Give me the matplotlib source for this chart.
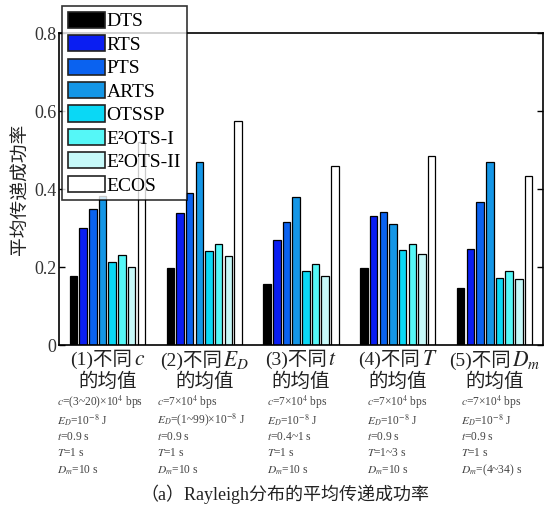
import numpy as np
import matplotlib
matplotlib.use('Agg')
import matplotlib.pyplot as plt
from matplotlib.patches import Patch
from matplotlib.offsetbox import TextArea, HPacker, AnnotationBbox

plt.rcParams['font.family'] = ['Liberation Serif', 'Noto Sans CJK SC']
plt.rcParams['mathtext.fontset'] = 'stix'

# Average delivery success rate per scheme, one value per scenario group
schemes = ['DTS', 'RTS', 'PTS', 'ARTS', 'OTSSP', 'E²OTS-I', 'E²OTS-II', 'ECOS']
colors = ['#000000', '#0a1ef2', '#0a62f0', '#1496e6', '#0ad8f5', '#55f7f7', '#c6f9f9', '#ffffff']
dts = [0.177, 0.198, 0.156, 0.198, 0.146]
rts = [0.299, 0.338, 0.268, 0.331, 0.247]
pts = [0.349, 0.390, 0.316, 0.341, 0.366]
arts = [0.382, 0.469, 0.380, 0.309, 0.470]
otssp = [0.213, 0.241, 0.190, 0.243, 0.172]
e2ots1 = [0.232, 0.260, 0.207, 0.260, 0.190]
e2ots2 = [0.200, 0.227, 0.178, 0.233, 0.168]
ecos = [0.520, 0.575, 0.459, 0.485, 0.434]
series = [dts, rts, pts, arts, otssp, e2ots1, e2ots2, ecos]

group_prefix = ['(1)不同', '(2)不同', '(3)不同', '(4)不同', '(5)不同']
group_var = ['$c$', '$E_D$', '$t$', '$T$', '$D_m$']
y_ticks = [0, 0.2, 0.4, 0.6, 0.8]
y_tick_labels = ['0', '0.2', '0.4', '0.6', '0.8']

params = [
    ['$c$=(3~20)×10$^4$ bps', '$E_D$=10$^{-8}$ J', '$t$=0.9 s', '$T$=1 s', '$D_m$=10 s'],
    ['$c$=7×10$^4$ bps', '$E_D$=(1~99)×10$^{-8}$ J', '$t$=0.9 s', '$T$=1 s', '$D_m$=10 s'],
    ['$c$=7×10$^4$ bps', '$E_D$=10$^{-8}$ J', '$t$=0.4~1 s', '$T$=1 s', '$D_m$=10 s'],
    ['$c$=7×10$^4$ bps', '$E_D$=10$^{-8}$ J', '$t$=0.9 s', '$T$=1~3 s', '$D_m$=10 s'],
    ['$c$=7×10$^4$ bps', '$E_D$=10$^{-8}$ J', '$t$=0.9 s', '$T$=1 s', '$D_m$=(4~34) s'],
]

W, H = 544, 512
fig = plt.figure(figsize=(W / 100, H / 100), dpi=100)
ax = fig.add_axes([59 / W, 1 - 345 / H, 484 / W, 312 / H])

x = np.arange(1, 6)
pitch = 0.1
for i, (vals, col) in enumerate(zip(series, colors)):
    ax.bar(x + (i - 3.5) * pitch, vals, width=0.078, color=col,
           edgecolor='black', linewidth=0.9, zorder=2)

ax.set_xlim(0.5, 5.5)
ax.set_ylim(0, 0.8)
ax.set_yticks(y_ticks)
ax.set_yticklabels(y_tick_labels, fontsize=13, color='#333333')
ax.set_xticks([])
ax.tick_params(axis='y', direction='in', length=4, width=1, right=True, pad=2)
for sp in ax.spines.values():
    sp.set_linewidth(1.2)

ax.set_ylabel('平均传递成功率', fontsize=13.5, labelpad=3, color='#222222')

# two-line group titles: text plus an italic variable name
trans = ax.get_xaxis_transform()
for xi, pre, var in zip(x, group_prefix, group_var):
    row = HPacker(children=[
        TextArea(pre, textprops=dict(fontsize=14, color='#222222')),
        TextArea(var, textprops=dict(fontsize=15.5, color='#222222')),
    ], pad=0, sep=1, align='baseline')
    ab = AnnotationBbox(row, (xi, -0.048), xycoords=trans, frameon=False,
                        box_alignment=(0.5, 0.5), pad=0)
    ax.add_artist(ab)
    ax.text(xi, -0.119, '的均值', transform=trans, ha='center', va='center',
            fontsize=14, color='#222222')

# parameter settings under each group
col_x = [57, 157, 267, 367, 461]
row_y = [402, 420, 437, 453, 470]
for cx, lines in zip(col_x, params):
    for ry, line in zip(row_y, lines):
        fig.text(cx / W, 1 - ry / H, line, ha='left', va='center',
                 fontsize=8.3, color='#444444')

fig.text(285 / W, 1 - 494 / H, '（a）Rayleigh分布的平均传递成功率', ha='center',
         va='center', fontsize=13, color='#222222')

handles = [Patch(facecolor=c, edgecolor='#222222', linewidth=1.2) for c in colors]
leg = ax.legend(handles, schemes, loc='upper left', bbox_to_anchor=(0.006, 1.087),
                fontsize=14, frameon=True, fancybox=False, edgecolor='black',
                handlelength=1.9, handleheight=0.9, labelspacing=0.24,
                handletextpad=0.1, borderpad=0.3, borderaxespad=0)
leg.get_frame().set_linewidth(1.2)
leg.set_zorder(5)

fig.savefig('out.png', dpi=100)
